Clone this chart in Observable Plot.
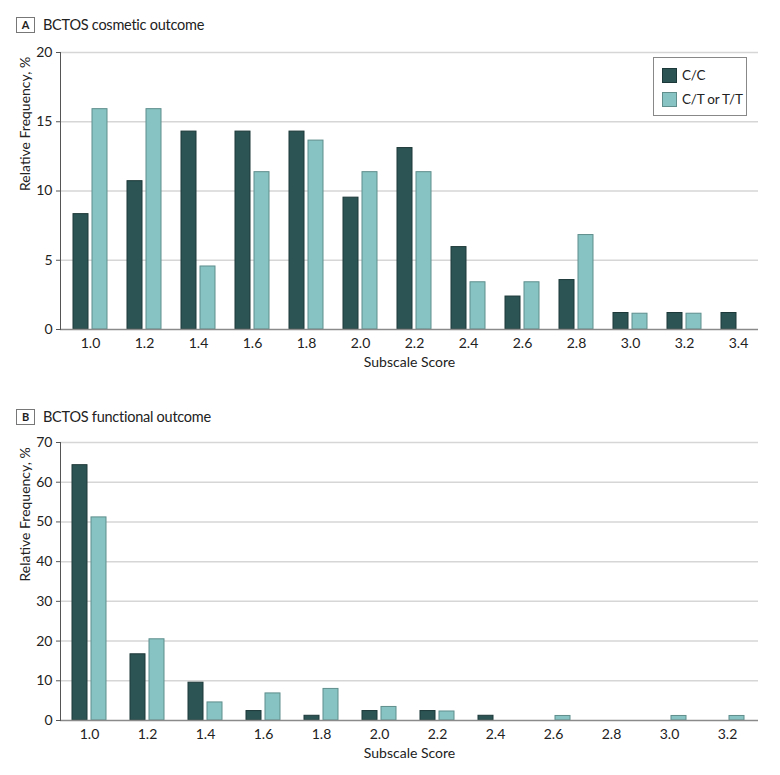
<!DOCTYPE html>
<html>
<head>
<meta charset="utf-8">
<script src="https://cdn.jsdelivr.net/npm/d3@7"></script>
<script src="https://cdn.jsdelivr.net/npm/@observablehq/plot@0.6"></script>
<style>
  body { margin: 0; background: #fff; font-family: Lato, "Open Sans", sans-serif; }
  #wrap { position: relative; width: 780px; height: 775px; overflow: hidden; }
  .panelhead { position: absolute; left: 16px; display: flex; align-items: center; font-size: 14.5px; letter-spacing: -0.25px; color: #222; white-space: nowrap; }
  .panelhead .box { width: 17px; height: 14px; border: 1px solid #777; font-size: 11px; font-weight: bold; letter-spacing: 0; display: flex; align-items: center; justify-content: center; margin-right: 8px; }
  .chart { position: absolute; left: 0; }
  .legend { position: absolute; left: 653px; top: 57px; width: 92px; height: 57px; border: 1px solid #888; background: #fff; font-size: 13.5px; letter-spacing: -0.2px; color: #222; white-space: nowrap; }
  .legend .row { position: absolute; left: 8px; display: flex; align-items: center; }
  .legend .sw { width: 15px; height: 15px; margin-right: 5px; box-sizing: border-box; flex: none; }
</style>
</head>
<body>
<div id="wrap">
  <div class="panelhead" style="top:16px;"><div class="box">A</div><div>BCTOS cosmetic outcome</div></div>
  <div class="panelhead" style="top:408px;"><div class="box">B</div><div>BCTOS functional outcome</div></div>
  <div id="chartA" class="chart" style="top:40px;"></div>
  <div id="chartB" class="chart" style="top:430px;"></div>
  <div class="legend">
    <div class="row" style="top:9px;"><div class="sw" style="background:#2c5454;border:1px solid #1d3838;"></div>C/C</div>
    <div class="row" style="top:33px;"><div class="sw" style="background:#86c3c2;border:1px solid #5f8e8d;"></div>C/T or T/T</div>
  </div>
</div>
<script>
// Panel A: BCTOS cosmetic outcome (relative frequency, %)
const scoresA = ["1.0","1.2","1.4","1.6","1.8","2.0","2.2","2.4","2.6","2.8","3.0","3.2","3.4"];
const ccA = [8.33, 10.71, 14.29, 14.29, 14.29, 9.52, 13.10, 5.95, 2.38, 3.57, 1.19, 1.19, 1.19];
const ctA = [15.91, 15.91, 4.55, 11.36, 13.64, 11.36, 11.36, 3.41, 3.41, 6.82, 1.14, 1.14, 0];
const yTicksA = [0, 5, 10, 15, 20];

// Panel B: BCTOS functional outcome (relative frequency, %)
const scoresB = ["1.0","1.2","1.4","1.6","1.8","2.0","2.2","2.4","2.6","2.8","3.0","3.2"];
const ccB = [64.29, 16.67, 9.52, 2.38, 1.19, 2.38, 2.38, 1.19, 0, 0, 0, 0];
const ctB = [51.14, 20.45, 4.55, 6.82, 7.95, 3.41, 2.27, 0, 1.14, 0, 1.14, 1.14];
const yTicksB = [0, 10, 20, 30, 40, 50, 60, 70];

const seriesNames = ["C/C", "C/T or T/T"];
const colors = {"C/C": {fill: "#2c5454", stroke: "#1d3838"}, "C/T or T/T": {fill: "#86c3c2", stroke: "#5f8e8d"}};

function panel(scores, cc, ct, yTicks, height, marginBottom, firstCenter, step) {
  const rows = scores.flatMap((s, i) => [
    {score: s, group: seriesNames[0], value: cc[i]},
    {score: s, group: seriesNames[1], value: ct[i]}
  ]).filter(d => d.value > 0);
  const n = scores.length;
  const groupW = 34;
  const pi = 1 - groupW / step;
  const r0 = firstCenter - step / 2;
  return Plot.plot({
    width: 780,
    height,
    marginLeft: 60,
    marginRight: 22,
    marginTop: 12,
    marginBottom,
    style: {fontFamily: "Lato, 'Open Sans', sans-serif", fontSize: "14px", color: "#222"},
    x: {type: "band", domain: scores, range: [r0, r0 + n * step], paddingInner: pi, paddingOuter: pi / 2, label: null},
    y: {domain: [0, yTicks[yTicks.length - 1]], ticks: yTicks, label: null},
    marks: [
      Plot.gridY(yTicks.filter(t => t > 0), {stroke: "#d6d6d6", strokeOpacity: 1, strokeWidth: 1.5}),
      Plot.barY(rows.filter(d => d.group === seriesNames[0]), {x: "score", y: "value", fill: colors["C/C"].fill, stroke: colors["C/C"].stroke, strokeWidth: 1, insetRight: 19}),
      Plot.barY(rows.filter(d => d.group === seriesNames[1]), {x: "score", y: "value", fill: colors["C/T or T/T"].fill, stroke: colors["C/T or T/T"].stroke, strokeWidth: 1, insetLeft: 19}),
      Plot.ruleY([0], {stroke: "#8a8a8a", strokeWidth: 1.5}),
      Plot.frame({anchor: "left", stroke: "#555"}),
      Plot.axisY(yTicks, {tickSize: 4, tickPadding: 4, stroke: "#555", fill: "#222", fontSize: 14, label: null}),
      Plot.axisX({tickSize: 0, tickPadding: 9, fill: "#222", fontSize: 14, label: null}),
      Plot.text(["Relative Frequency, %"], {frameAnchor: "left", rotate: -90, dx: -35, fontSize: 14, fill: "#222"}),
      Plot.text(["Subscale Score"], {frameAnchor: "bottom", dy: 37, fontSize: 14, fill: "#222"})
    ]
  });
}

document.getElementById("chartA").append(panel(scoresA, ccA, ctA, yTicksA, 335, 46, 84.7, 54.8));
document.getElementById("chartB").append(panel(scoresB, ccB, ctB, yTicksB, 345, 55, 85, 58.77));
</script>
</body>
</html>
